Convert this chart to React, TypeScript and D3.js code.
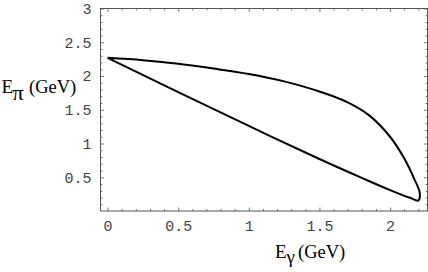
import { useEffect, useRef } from 'react'
import * as d3 from 'd3'

// boundary of the allowed region (GeV)
// upper branch: from the cusp at E_gamma = 0 round to the tip
const upperGamma = [0, 0.25, 0.5, 0.75, 1.0, 1.25, 1.5, 1.7, 1.85, 2.0, 2.1, 2.17, 2.21, 2.2]
const upperPi = [2.27, 2.235, 2.18, 2.11, 2.03, 1.92, 1.77, 1.61, 1.42, 1.1, 0.78, 0.48, 0.27, 0.155]
// lower branch: from the tip back to the cusp
const lowerGamma = [2.14, 2.0, 1.8, 1.5, 1.0, 0.5, 0]
const lowerPi = [0.196, 0.31, 0.49, 0.77, 1.26, 1.76, 2.27]

const xTicks = [0, 0.5, 1, 1.5, 2]
const yTicks = [0.5, 1, 1.5, 2, 2.5, 3]

const W = 428
const H = 272

export default function App() {
  const svgRef = useRef<SVGSVGElement>(null)

  useEffect(() => {
    if (!svgRef.current) return
    const svg = d3.select(svgRef.current)
    svg.selectAll('*').remove()

    const left = 100.5
    const right = 427.5
    const top = 8.5
    const bottom = 211

    const x = d3.scaleLinear().domain([-0.05, 2.265]).range([left, right])
    const y = d3.scaleLinear().domain([0, 3]).range([bottom, top])

    const xMinor = d3.range(0, 2.26, 0.1).filter((v) => !xTicks.some((t) => Math.abs(t - v) < 1e-6))
    const yMinor = d3.range(0.1, 3, 0.1).filter((v) => !yTicks.some((t) => Math.abs(t - v) < 1e-6))

    const frameColor = '#555'

    const styleAxis = (g: d3.Selection<SVGGElement, unknown, null, undefined>) => {
      g.select('.domain').remove()
      g.attr('font-family', '"Liberation Mono", monospace').attr('font-size', 15)
      g.selectAll('line').attr('stroke', frameColor).attr('stroke-width', 0.8)
      g.selectAll('text').attr('fill', '#444')
    }

    // bottom axis (labelled) + minor
    svg.append('g')
      .attr('transform', `translate(0,${bottom})`)
      .call(d3.axisBottom(x).tickValues(xTicks).tickSize(-3.5).tickPadding(9).tickFormat(d3.format('')))
      .call(styleAxis)
    svg.append('g')
      .attr('transform', `translate(0,${bottom})`)
      .call(d3.axisBottom(x).tickValues(xMinor).tickSize(-2).tickFormat(() => ''))
      .call(styleAxis)
    // top axis ticks
    svg.append('g')
      .attr('transform', `translate(0,${top})`)
      .call(d3.axisTop(x).tickValues(xTicks).tickSize(-3.5).tickFormat(() => ''))
      .call(styleAxis)
    svg.append('g')
      .attr('transform', `translate(0,${top})`)
      .call(d3.axisTop(x).tickValues(xMinor).tickSize(-2).tickFormat(() => ''))
      .call(styleAxis)

    // left axis (labelled) + minor
    svg.append('g')
      .attr('transform', `translate(${left},0)`)
      .call(d3.axisLeft(y).tickValues(yTicks).tickSize(-3.5).tickPadding(9).tickFormat(d3.format('')))
      .call(styleAxis)
    svg.append('g')
      .attr('transform', `translate(${left},0)`)
      .call(d3.axisLeft(y).tickValues(yMinor).tickSize(-2).tickFormat(() => ''))
      .call(styleAxis)
    // right axis ticks
    svg.append('g')
      .attr('transform', `translate(${right},0)`)
      .call(d3.axisRight(y).tickValues(yTicks).tickSize(-3.5).tickFormat(() => ''))
      .call(styleAxis)
    svg.append('g')
      .attr('transform', `translate(${right},0)`)
      .call(d3.axisRight(y).tickValues(yMinor).tickSize(-2).tickFormat(() => ''))
      .call(styleAxis)

    // frame
    svg.append('rect')
      .attr('x', left)
      .attr('y', top)
      .attr('width', right - left)
      .attr('height', bottom - top)
      .attr('fill', 'none')
      .attr('stroke', frameColor)
      .attr('stroke-width', 1)

    // boundary curve
    const pts: [number, number][] = [
      ...upperGamma.map((g, i) => [g, upperPi[i]] as [number, number]),
      ...lowerGamma.map((g, i) => [g, lowerPi[i]] as [number, number]),
    ]
    const line = d3
      .line<[number, number]>()
      .x((d) => x(d[0]))
      .y((d) => y(d[1]))
      .curve(d3.curveCatmullRom.alpha(0.5))

    svg.append('path')
      .datum(pts)
      .attr('fill', 'none')
      .attr('stroke', '#000')
      .attr('stroke-width', 2)
      .attr('stroke-linejoin', 'round')
      .attr('d', line)

    // axis labels
    const serif = '"Liberation Serif", "Times New Roman", serif'
    const label = (x0: number, base: number, sub: string, subX: number, subBase: number, subSize: number, restX: number) => {
      const g = svg.append('g').attr('fill', '#000').attr('font-family', serif)
      g.append('text').attr('x', x0).attr('y', base).attr('font-size', 19).text('E')
      g.append('text').attr('x', subX).attr('y', subBase).attr('font-size', subSize).text(sub)
      g.append('text').attr('x', restX).attr('y', base).attr('font-size', 18.5).text('(GeV)')
    }
    label(1.5, 92.7, 'π', 12.5, 100, 22, 29)
    label(275, 258.3, 'γ', 286.5, 262.5, 19, 298)
  }, [])

  return (
    <svg
      ref={svgRef}
      width={W}
      height={H}
      style={{ position: 'absolute', left: 0, top: 0, background: '#fff' }}
    />
  )
}
